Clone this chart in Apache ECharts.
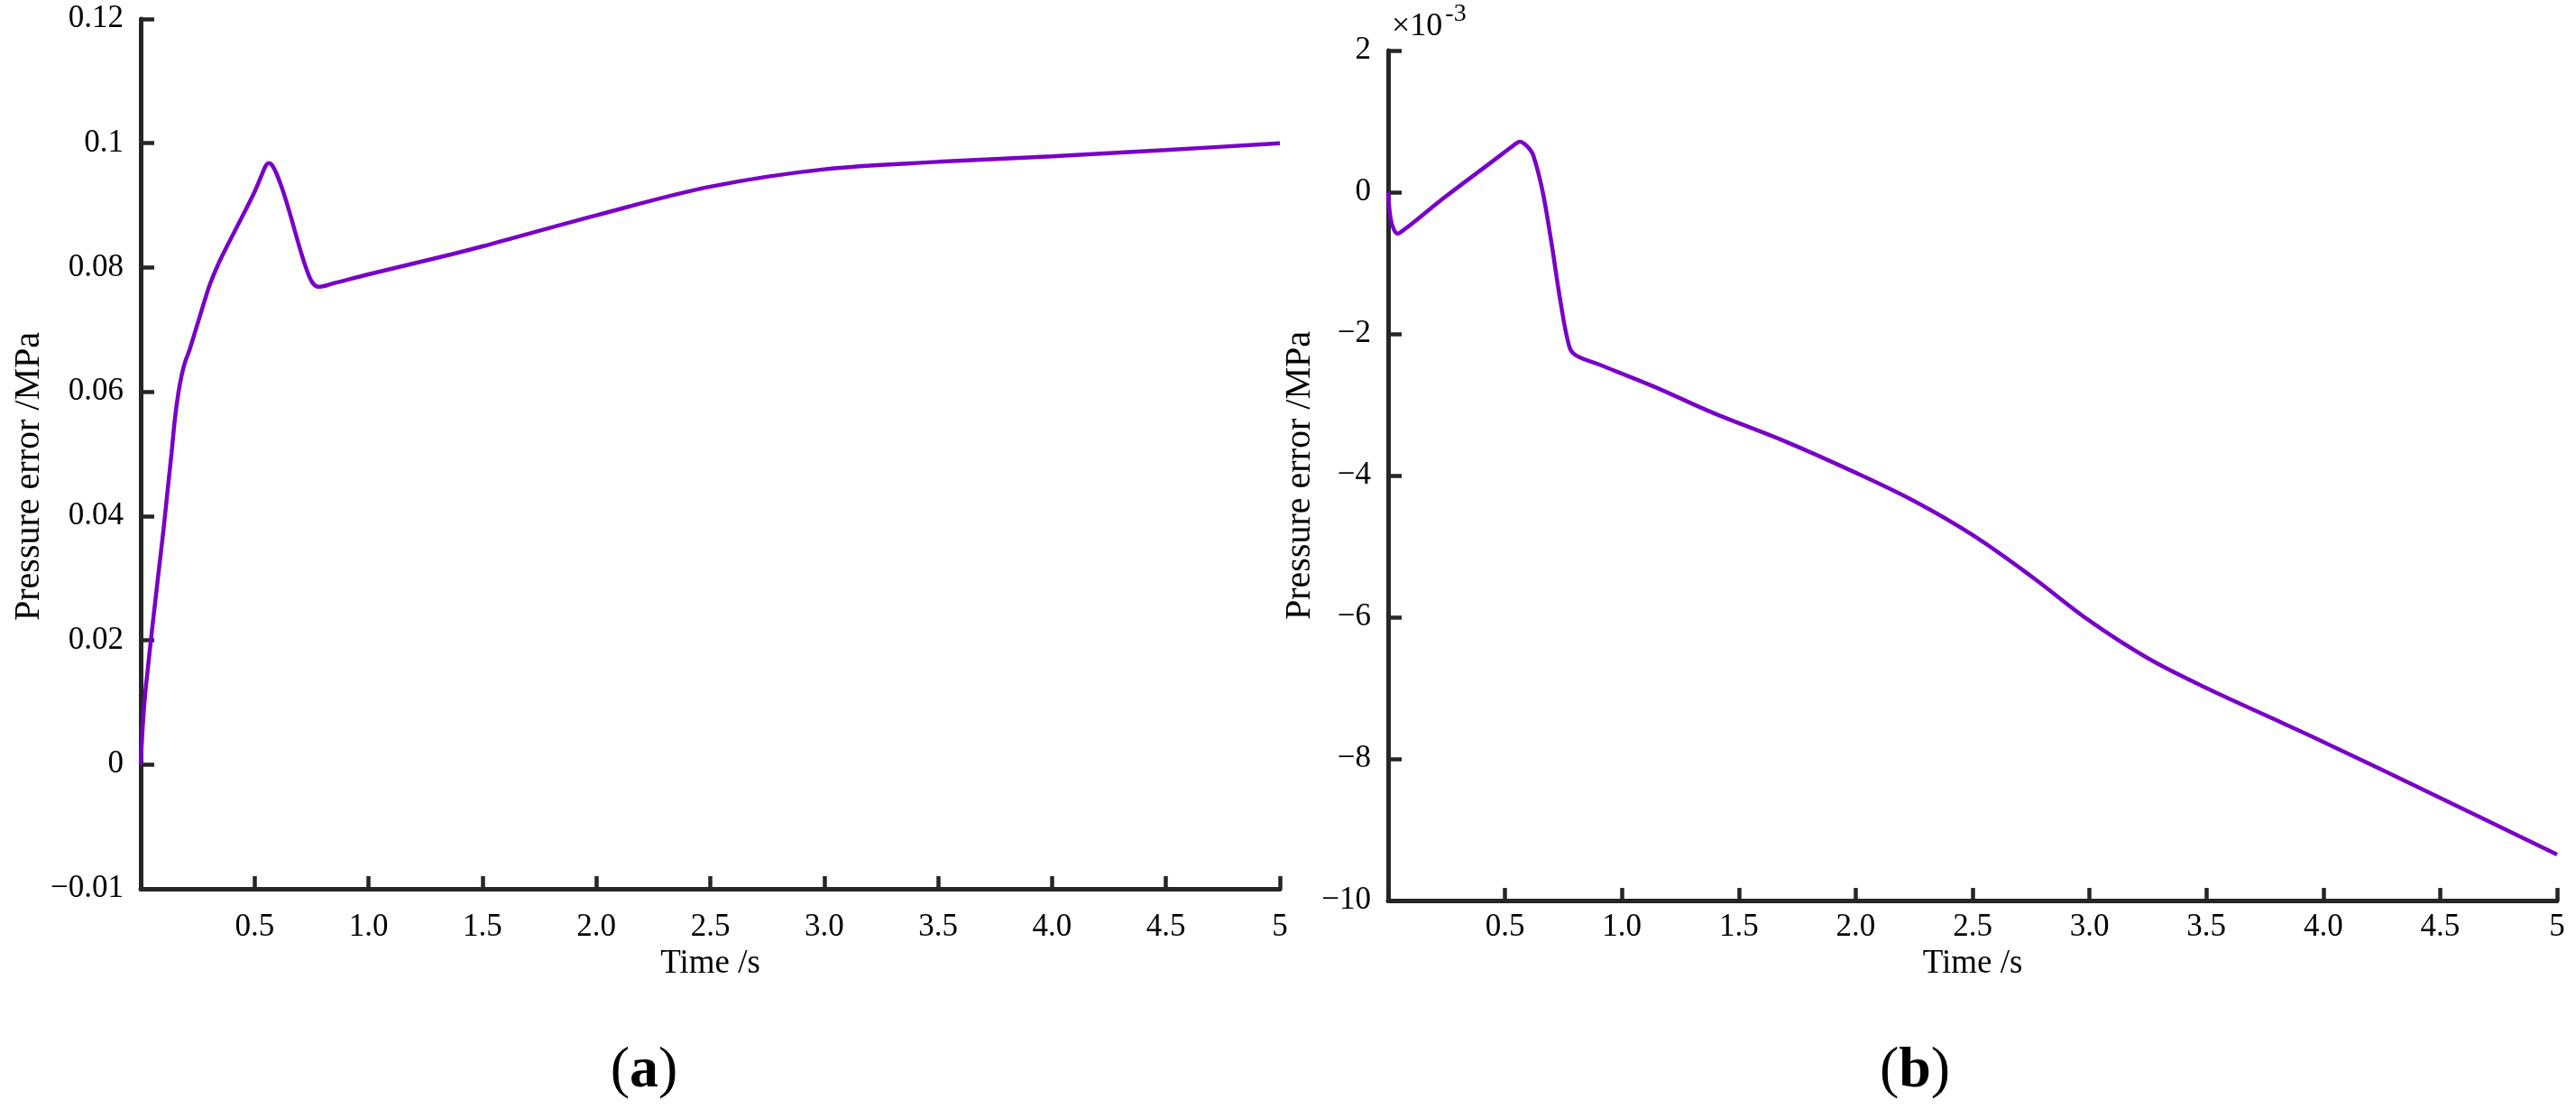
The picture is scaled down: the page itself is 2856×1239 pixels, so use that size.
<!DOCTYPE html>
<html>
<head>
<meta charset="utf-8">
<script src="https://cdn.jsdelivr.net/npm/echarts@6/dist/echarts.min.js"></script>
<style>
  html, body { margin: 0; padding: 0; background: #fff; }
  #main { width: 2856px; height: 1239px; }
</style>
</head>
<body>
<div id="main"></div>
<script>
// (a) pressure error, MPa
var leftTime = [0, 0.01, 0.02, 0.03, 0.05, 0.075, 0.1, 0.12, 0.135, 0.15, 0.165, 0.18, 0.195, 0.214, 0.25, 0.28, 0.305, 0.34, 0.38, 0.44, 0.5, 0.53, 0.548, 0.562, 0.576, 0.595, 0.62, 0.65, 0.70, 0.73, 0.755, 0.78, 0.85, 1.0, 1.362, 1.5, 2.0, 2.5, 3.0, 3.5, 4.0, 4.5, 5.0];
var leftErr = [0, 0.0068, 0.0115, 0.0150, 0.0218, 0.0298, 0.0378, 0.0448, 0.0500, 0.0556, 0.0597, 0.0627, 0.0648, 0.0667, 0.0710, 0.0746, 0.0774, 0.0805, 0.0835, 0.0878, 0.0922, 0.0948, 0.0963, 0.0968, 0.0965, 0.0952, 0.0928, 0.0893, 0.0829, 0.0795, 0.0775, 0.0769, 0.0775, 0.0789, 0.0821, 0.0834, 0.0884, 0.0930, 0.0958, 0.0970, 0.0979, 0.0989, 0.1000];

// (b) pressure error, x10^-3 MPa
var rightTime = [0, 0.01, 0.025, 0.042, 0.06, 0.1, 0.235, 0.428, 0.52, 0.548, 0.563, 0.58, 0.60, 0.621, 0.66, 0.698, 0.737, 0.775, 0.802, 0.9, 1.134, 1.393, 1.7, 2.0, 2.25, 2.5, 2.75, 3.0, 3.25, 3.5, 3.75, 4.0, 4.5, 5.0];
var rightErr = [0, -0.36, -0.53, -0.586, -0.55, -0.45, -0.09, 0.39, 0.62, 0.69, 0.713, 0.69, 0.63, 0.52, 0.025, -0.70, -1.54, -2.18, -2.30, -2.43, -2.74, -3.12, -3.52, -3.96, -4.36, -4.84, -5.42, -6.05, -6.58, -7.0, -7.38, -7.76, -8.55, -9.35];

// tick labels
var xTickLabels = {0.5: '0.5', 1: '1.0', 1.5: '1.5', 2: '2.0', 2.5: '2.5', 3: '3.0', 3.5: '3.5', 4: '4.0', 4.5: '4.5', 5: '5'};
var leftYTickLabels = {'-0.02': '\u22120.01', '0': '0', '0.02': '0.02', '0.04': '0.04', '0.06': '0.06', '0.08': '0.08', '0.1': '0.1', '0.12': '0.12'};
var rightYTickLabels = {'-10': '\u221210', '-8': '\u22128', '-6': '\u22126', '-4': '\u22124', '-2': '\u22122', '0': '0', '2': '2'};

var font = 'Liberation Serif';
var axisColor = '#262626';
var lineColor = '#7800C8';

function zip(xs, ys) {
  return xs.map(function (x, i) { return [x, ys[i]]; });
}

function xLabel(v) {
  var k = Math.round(v * 10) / 10;
  return xTickLabels[k] || '';
}

function axisLineStyle() {
  return { show: true, onZero: false, lineStyle: { color: axisColor, width: 5 } };
}

var chart = echarts.init(document.getElementById('main'));

var option = {
  backgroundColor: '#fff',
  animation: false,
  title: [
    {
      text: '({b|a})',
      left: 709, top: 1150, textAlign: 'center',
      textStyle: { fontFamily: font, fontSize: 64, fontWeight: 'normal', color: '#000',
        rich: { b: { fontFamily: font, fontSize: 64, fontWeight: 'bold', color: '#000' } } }
    },
    {
      text: '({b|b})',
      left: 2118, top: 1150, textAlign: 'center',
      textStyle: { fontFamily: font, fontSize: 64, fontWeight: 'normal', color: '#000',
        rich: { b: { fontFamily: font, fontSize: 64, fontWeight: 'bold', color: '#000' } } }
    }
  ],
  grid: [
    { left: 156, top: 21, width: 1263, height: 964 },
    { left: 1539, top: 56, width: 1296, height: 942 }
  ],
  xAxis: [0, 1].map(function (i) {
    return {
      type: 'value', gridIndex: i, min: 0, max: 5, interval: 0.5,
      name: 'Time /s', nameLocation: 'middle', nameGap: i === 0 ? 58 : 45,
      nameTextStyle: { fontFamily: font, fontSize: 37, color: '#000' },
      axisLine: axisLineStyle(),
      axisTick: { inside: true, length: 14, lineStyle: { color: axisColor, width: 4.5 } },
      axisLabel: { formatter: xLabel, margin: i === 0 ? 25 : 12, showMaxLabel: true, showMinLabel: true,
        fontFamily: font, fontSize: 35, color: '#000' },
      splitLine: { show: false }
    };
  }),
  yAxis: [
    {
      type: 'value', gridIndex: 0, min: -0.02, max: 0.12, interval: 0.02,
      name: 'Pressure error /MPa', nameLocation: 'middle', nameGap: 104,
      nameTextStyle: { fontFamily: font, fontSize: 40, color: '#000', padding: [0, 50, 0, 0] },
      axisLine: axisLineStyle(),
      axisTick: { inside: true, length: 15, lineStyle: { color: axisColor, width: 4.5 } },
      axisLabel: {
        formatter: function (v) { return leftYTickLabels[String(Math.round(v * 100) / 100)] || ''; },
        margin: 19, fontFamily: font, fontSize: 35, color: '#000'
      },
      splitLine: { show: false }
    },
    {
      type: 'value', gridIndex: 1, min: -10, max: 2, interval: 2,
      name: 'Pressure error /MPa', nameLocation: 'middle', nameGap: 69,
      nameTextStyle: { fontFamily: font, fontSize: 40, color: '#000' },
      axisLine: axisLineStyle(),
      axisTick: { inside: true, length: 15, lineStyle: { color: axisColor, width: 4.5 } },
      axisLabel: {
        formatter: function (v) { return rightYTickLabels[String(v)] || ''; },
        margin: 19, fontFamily: font, fontSize: 35, color: '#000'
      },
      splitLine: { show: false }
    }
  ],
  graphic: [
    {
      type: 'text', left: 1543, top: 2,
      style: {
        text: '{a|\u00d710}{s|-3}',
        rich: {
          a: { fontFamily: font, fontSize: 36, fill: '#000', padding: [14, 0, 0, 0] },
          s: { fontFamily: font, fontSize: 28, fill: '#000', padding: [0, 0, 14, 3] }
        }
      }
    }
  ],
  series: [
    {
      type: 'line', xAxisIndex: 0, yAxisIndex: 0,
      data: zip(leftTime, leftErr),
      showSymbol: false, smooth: 0.35,
      lineStyle: { color: lineColor, width: 4.5 }
    },
    {
      type: 'line', xAxisIndex: 1, yAxisIndex: 1,
      data: zip(rightTime, rightErr),
      showSymbol: false, smooth: 0.35,
      lineStyle: { color: lineColor, width: 4.5 }
    }
  ]
};

chart.setOption(option);
</script>
</body>
</html>
